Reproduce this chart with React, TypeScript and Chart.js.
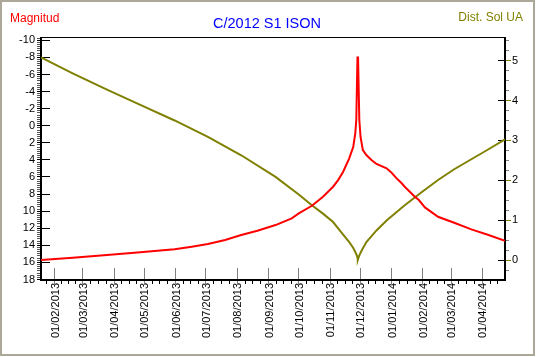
import React, { useEffect, useRef } from "react";
import { Chart, registerables } from "chart.js";

Chart.register(...registerables);

// ---- Texts ----
const TITLE = "C/2012 S1 ISON";
const LEFT_AXIS_TITLE = "Magnitud";
const RIGHT_AXIS_TITLE = "Dist. Sol UA";

// ---- Magnitude series (left axis, reversed) ----
const magDates = [
  "2013-01-18T15:00", "2013-02-19", "2013-03-25", "2013-04-27", "2013-05-31",
  "2013-06-17", "2013-07-03", "2013-07-20", "2013-08-05", "2013-08-21",
  "2013-09-08", "2013-09-24", "2013-10-01", "2013-10-14", "2013-10-25",
  "2013-11-04", "2013-11-09", "2013-11-14", "2013-11-20", "2013-11-24",
  "2013-11-26", "2013-11-27", "2013-11-28T04:00", "2013-11-28T18:00", "2013-11-30",
  "2013-12-01T05:00", "2013-12-03T12:00", "2013-12-07", "2013-12-12", "2013-12-17",
  "2013-12-27", "2014-01-01", "2014-01-06", "2014-01-11", "2014-01-14",
  "2014-01-24", "2014-01-28", "2014-02-03", "2014-02-16", "2014-03-04",
  "2014-03-21", "2014-04-07", "2014-04-23T08:00",
];
const magValues = [
  15.73, 15.46, 15.14, 14.82, 14.47,
  14.17, 13.85, 13.38, 12.8, 12.3,
  11.63, 10.84, 10.26, 9.37, 8.31,
  7.14, 6.36, 5.39, 3.82, 2.46,
  0.89, -0.67, -8.0, -8.0, -0.67,
  1.29, 2.85, 3.43, 4.02, 4.48,
  4.99, 5.5, 6.16, 6.74, 7.14,
  8.31, 8.7, 9.56, 10.66, 11.36,
  12.13, 12.8, 13.47,
];

// ---- Sun distance series (right axis, AU) ----
const distDates = [
  "2013-01-18T15:00", "2013-02-19", "2013-03-25", "2013-04-27", "2013-05-31",
  "2013-07-03", "2013-08-05", "2013-09-08", "2013-10-01", "2013-10-14",
  "2013-10-25", "2013-11-04", "2013-11-12", "2013-11-20", "2013-11-24",
  "2013-11-26", "2013-11-27T20:00", "2013-11-28T12:00", "2013-11-29T18:00", "2013-12-01",
  "2013-12-03", "2013-12-07", "2013-12-17", "2013-12-27", "2014-01-06",
  "2014-01-14", "2014-01-31", "2014-02-16", "2014-03-04", "2014-03-21",
  "2014-04-07", "2014-04-23T08:00",
];
const distValues = [
  5.08, 4.68, 4.27, 3.89, 3.5,
  3.09, 2.63, 2.09, 1.65, 1.38,
  1.17, 0.96, 0.71, 0.46, 0.31,
  0.21, 0.11, 0.012, 0.11, 0.18,
  0.28, 0.46, 0.75, 1.0, 1.21,
  1.38, 1.71, 2.01, 2.28, 2.53,
  2.78, 3.03,
];

// ---- Axes ----
const xTickDates = [
  "2013-02-01", "2013-03-01", "2013-04-01", "2013-05-01", "2013-06-01",
  "2013-07-01", "2013-08-01", "2013-09-01", "2013-10-01", "2013-11-01",
  "2013-12-01", "2014-01-01", "2014-02-01", "2014-03-01", "2014-04-01",
];
const X_START = "2013-01-18T15:00";
const X_END = "2014-04-23T08:00";
const magTickValues = [-10, -8, -6, -4, -2, 0, 2, 4, 6, 8, 10, 12, 14, 16, 18];
const MAG_MIN = -10.33;
const MAG_MAX = 18.06;
const distTickValues = [0, 1, 2, 3, 4, 5];
const DIST_MIN = -0.49;
const DIST_MAX = 5.575;

const RED = "#FF0000";
const OLIVE = "#808000";
const BLUE = "#0000FF";
const FRAME = "#ACA899";
const FONT = "'Liberation Sans', Arial, sans-serif";

const toMs = (s: string) =>
  Date.parse(s.length === 10 ? s + "T00:00:00Z" : s + ":00Z");
const fmtDate = (ms: number) => {
  const d = new Date(ms);
  const dd = String(d.getUTCDate()).padStart(2, "0");
  const mm = String(d.getUTCMonth() + 1).padStart(2, "0");
  return `${dd}/${mm}/${d.getUTCFullYear()}`;
};

const decorPlugin = {
  id: "decor",
  beforeDraw(chart: any) {
    const ctx = chart.ctx as CanvasRenderingContext2D;
    ctx.save();
    ctx.fillStyle = "#FFFFFF";
    ctx.fillRect(0, 0, chart.width, chart.height);
    ctx.fillStyle = FRAME;
    ctx.fillRect(0, 0, 535, 2);
    ctx.fillRect(0, 0, 2, 356);
    ctx.fillRect(533, 0, 2, 356);
    ctx.fillRect(0, 354, 535, 2);

    ctx.textBaseline = "alphabetic";
    ctx.font = `12px ${FONT}`;
    ctx.fillStyle = RED;
    ctx.textAlign = "left";
    ctx.fillText(LEFT_AXIS_TITLE, 10, 22);
    ctx.fillStyle = OLIVE;
    ctx.textAlign = "right";
    ctx.fillText(RIGHT_AXIS_TITLE, 523, 21);
    ctx.font = `14.5px ${FONT}`;
    ctx.fillStyle = BLUE;
    ctx.textAlign = "center";
    ctx.fillText(TITLE, 267, 28);
    ctx.restore();
  },
  beforeDatasetsDraw(chart: any) {
    const ctx = chart.ctx as CanvasRenderingContext2D;
    const { x, y, y2 } = chart.scales;
    ctx.save();
    // left axis ticks
    for (let v = -10.25; v <= 18.001; v += 0.25) {
      const py = Math.floor(y.getPixelForValue(v));
      if (Math.abs(v % 2) < 1e-6) {
        ctx.fillStyle = "#000";
        ctx.fillRect(37, py, 13, 1);
      } else {
        ctx.fillStyle = "#555";
        ctx.fillRect(37, py, 3, 1);
      }
    }
    // right axis ticks
    for (let v = -0.25; v <= 5.5001; v += 0.25) {
      const py = Math.floor(y2.getPixelForValue(v));
      if (Math.abs(v - Math.round(v)) < 1e-6) {
        ctx.fillStyle = "#000";
        ctx.fillRect(498, py, 6, 1);
        ctx.fillStyle = OLIVE;
        ctx.fillRect(506, py, 5, 1);
      } else {
        ctx.fillStyle = "#808080";
        ctx.fillRect(506, py, 3, 1);
      }
    }
    // x axis ticks
    const xmin = x.min, xmax = x.max;
    ctx.fillStyle = "#000";
    for (let yr = 2013; yr <= 2014; yr++) {
      for (let m = 0; m < 12; m++) {
        const s = Date.UTC(yr, m, 1), e = Date.UTC(yr, m + 1, 1);
        for (let k = 1; k < 4; k++) {
          const t = s + ((e - s) * k) / 4;
          if (t > xmin && t < xmax) {
            const px = Math.floor(x.getPixelForValue(t));
            ctx.fillRect(px, 281, 1, 3);
          }
        }
      }
    }
    ctx.fillStyle = "#808080";
    xTickDates.forEach((d) => {
      const px = Math.floor(x.getPixelForValue(toMs(d)));
      ctx.fillRect(px, 268, 1, 11);
      ctx.fillRect(px, 281, 1, 4);
    });
    // frame lines of plot
    ctx.fillStyle = "#000";
    ctx.fillRect(40, 37, 466, 1);
    ctx.fillRect(40, 37, 2, 244);
    ctx.fillRect(504, 37, 2, 244);
    ctx.fillRect(40, 279, 466, 2);
    ctx.restore();
  },
};

export default function App() {
  const ref = useRef<HTMLCanvasElement | null>(null);
  useEffect(() => {
    if (!ref.current) return;
    const tickFont = { family: FONT, size: 11 };
    const chart = new Chart(ref.current, {
      type: "line",
      data: {
        datasets: [
          {
            label: LEFT_AXIS_TITLE,
            data: magDates.map((d, i) => ({ x: toMs(d), y: magValues[i] })),
            borderColor: RED,
            backgroundColor: RED,
            borderWidth: 2,
            pointRadius: 0,
            tension: 0,
            yAxisID: "y",
          },
          {
            label: RIGHT_AXIS_TITLE,
            data: distDates.map((d, i) => ({ x: toMs(d), y: distValues[i] })),
            borderColor: OLIVE,
            backgroundColor: OLIVE,
            borderWidth: 2,
            pointRadius: 0,
            tension: 0,
            yAxisID: "y2",
          },
        ],
      },
      options: {
        animation: false,
        responsive: false,
        devicePixelRatio: 1,
        layout: { padding: { top: 37.5, left: 0, right: 0, bottom: 0 } },
        plugins: {
          legend: { display: false },
          tooltip: { enabled: false },
          title: { display: false },
        },
        scales: {
          x: {
            type: "linear",
            position: "bottom",
            min: toMs(X_START),
            max: toMs(X_END),
            grid: { display: false, drawTicks: false },
            border: { display: false },
            afterBuildTicks: (s: any) => {
              s.ticks = xTickDates.map((d) => ({ value: toMs(d) }));
            },
            afterFit: (s: any) => {
              s.height = 77;
            },
            ticks: {
              autoSkip: false,
              minRotation: 90,
              maxRotation: 90,
              padding: 3,
              labelOffset: 1,
              color: "#000",
              font: tickFont,
              callback: (v: any) => fmtDate(Number(v)),
            },
          },
          y: {
            type: "linear",
            position: "left",
            reverse: true,
            min: MAG_MIN,
            max: MAG_MAX,
            grid: { display: false, drawTicks: false },
            border: { display: false },
            afterBuildTicks: (s: any) => {
              s.ticks = magTickValues.map((v) => ({ value: v }));
            },
            afterFit: (s: any) => {
              s.width = 41;
            },
            ticks: {
              padding: 6,
              color: "#000",
              font: tickFont,
              callback: (v: any) => String(v),
            },
          },
          y2: {
            type: "linear",
            position: "right",
            min: DIST_MIN,
            max: DIST_MAX,
            grid: { display: false, drawTicks: false },
            border: { display: false },
            afterBuildTicks: (s: any) => {
              s.ticks = distTickValues.map((v) => ({ value: v }));
            },
            afterFit: (s: any) => {
              s.width = 32;
            },
            ticks: {
              padding: 7,
              color: "#000",
              font: tickFont,
              callback: (v: any) => String(v),
            },
          },
        },
      },
      plugins: [decorPlugin],
    } as any);
    return () => chart.destroy();
  }, []);
  return (
    <div style={{ position: "fixed", left: 0, top: 0, width: 537, height: 357, background: "#fff" }}>
      <canvas ref={ref} width={537} height={357} style={{ display: "block" }} />
    </div>
  );
}
